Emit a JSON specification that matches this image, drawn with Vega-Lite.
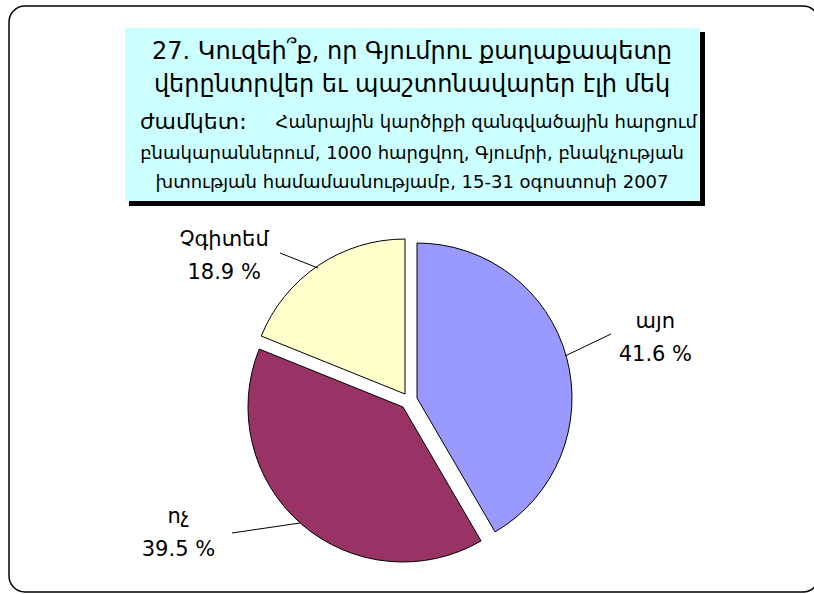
{
  "$schema": "https://vega.github.io/schema/vega-lite/v6.json",
  "width": 810,
  "height": 586,
  "autosize": "none",
  "padding": {"left": 9, "top": 6, "right": 0, "bottom": 2},
  "background": "white",
  "view": {"stroke": "black", "strokeWidth": 1.5, "cornerRadius": 16, "fill": "white"},
  "data": {"values": [
    {"cat": "այո", "value": 41.6},
    {"cat": "ոչ", "value": 39.5},
    {"cat": "Չգիտեմ", "value": 18.9}
  ]},
  "layer": [
    {"data": {"values": [{}]}, "mark": {"type": "rect", "x": 120, "y": 26, "x2": 696, "y2": 200, "fill": "black"}, "encoding": {}},
    {"data": {"values": [{}]}, "mark": {"type": "rect", "x": 116, "y": 22, "x2": 691, "y2": 195, "fill": "#CCFFFF"}, "encoding": {}},
    {"data": {"values": [{"t": "27. Կուզեի՞ք, որ Գյումրու քաղաքապետը"}]}, "mark": {"type": "text", "x": 403, "y": 46, "align": "center", "baseline": "middle", "font": "DejaVu Sans", "fontSize": 24, "color": "black"}, "encoding": {"text": {"field": "t"}}},
    {"data": {"values": [{"t": "վերընտրվեր եւ պաշտոնավարեր էլի մեկ"}]}, "mark": {"type": "text", "x": 403, "y": 79, "align": "center", "baseline": "middle", "font": "DejaVu Sans", "fontSize": 24, "color": "black"}, "encoding": {"text": {"field": "t"}}},
    {"data": {"values": [{"t": "ժամկետ:"}]}, "mark": {"type": "text", "x": 131, "y": 116, "align": "left", "baseline": "middle", "font": "DejaVu Sans", "fontSize": 22, "color": "black"}, "encoding": {"text": {"field": "t"}}},
    {"data": {"values": [{"t": "Հանրային կարծիքի զանգվածային հարցում"}]}, "mark": {"type": "text", "x": 688, "y": 117, "align": "right", "baseline": "middle", "font": "DejaVu Sans", "fontSize": 18, "color": "black"}, "encoding": {"text": {"field": "t"}}},
    {"data": {"values": [{"t": "բնակարաններում, 1000 հարցվող, Գյումրի, բնակչության"}]}, "mark": {"type": "text", "x": 403, "y": 148, "align": "center", "baseline": "middle", "font": "DejaVu Sans", "fontSize": 18, "color": "black"}, "encoding": {"text": {"field": "t"}}},
    {"data": {"values": [{"t": "խտության համամասնությամբ, 15-31 օգոստոսի 2007"}]}, "mark": {"type": "text", "x": 403, "y": 177, "align": "center", "baseline": "middle", "font": "DejaVu Sans", "fontSize": 18, "color": "black"}, "encoding": {"text": {"field": "t"}}},
    {
      "mark": {"type": "arc", "radius": 155, "stroke": "black", "strokeWidth": 1, "xOffset": 3, "yOffset": 99},
      "encoding": {
        "theta": {"field": "value", "type": "quantitative", "stack": true},
        "order": {"field": "value", "sort": "descending"},
        "color": {"field": "cat", "type": "nominal", "scale": {"domain": ["այո", "ոչ", "Չգիտեմ"], "range": ["#9999FF", "#993366", "#FFFFCC"]}, "legend": null},
        "opacity": {"condition": {"test": "datum.cat === 'այո'", "value": 1}, "value": 0}
      }
    },
    {
      "mark": {"type": "arc", "radius": 155, "stroke": "black", "strokeWidth": 1, "xOffset": -11, "yOffset": 108},
      "encoding": {
        "theta": {"field": "value", "type": "quantitative", "stack": true},
        "order": {"field": "value", "sort": "descending"},
        "color": {"field": "cat", "type": "nominal", "scale": {"domain": ["այո", "ոչ", "Չգիտեմ"], "range": ["#9999FF", "#993366", "#FFFFCC"]}, "legend": null},
        "opacity": {"condition": {"test": "datum.cat === 'ոչ'", "value": 1}, "value": 0}
      }
    },
    {
      "mark": {"type": "arc", "radius": 155, "stroke": "black", "strokeWidth": 1, "xOffset": -9, "yOffset": 95},
      "encoding": {
        "theta": {"field": "value", "type": "quantitative", "stack": true},
        "order": {"field": "value", "sort": "descending"},
        "color": {"field": "cat", "type": "nominal", "scale": {"domain": ["այո", "ոչ", "Չգիտեմ"], "range": ["#9999FF", "#993366", "#FFFFCC"]}, "legend": null},
        "opacity": {"condition": {"test": "datum.cat === 'Չգիտեմ'", "value": 1}, "value": 0}
      }
    },
    {"data": {"values": [{}]}, "mark": {"type": "rule", "stroke": "black", "strokeWidth": 1}, "encoding": {"x": {"value": 271}, "y": {"value": 247}, "x2": {"value": 309}, "y2": {"value": 262}}},
    {"data": {"values": [{}]}, "mark": {"type": "rule", "stroke": "black", "strokeWidth": 1}, "encoding": {"x": {"value": 556}, "y": {"value": 350}, "x2": {"value": 602}, "y2": {"value": 328}}},
    {"data": {"values": [{}]}, "mark": {"type": "rule", "stroke": "black", "strokeWidth": 1}, "encoding": {"x": {"value": 223}, "y": {"value": 527}, "x2": {"value": 291}, "y2": {"value": 517}}},
    {
      "transform": [{"calculate": "datum.cat + '\\n' + format(datum.value, '.1f') + ' %'", "as": "label"}],
      "mark": {"type": "text", "radius": 250, "font": "DejaVu Sans", "fontSize": 21, "lineBreak": "\n", "lineHeight": 33, "align": "center", "baseline": "middle", "color": "black", "xOffset": -4, "yOffset": 101, "dx": 4, "dy": -13},
      "encoding": {
        "theta": {"field": "value", "type": "quantitative", "stack": true},
        "order": {"field": "value", "sort": "descending"},
        "text": {"condition": {"test": "datum.cat === 'այո'", "field": "label"}, "value": ""}
      }
    },
    {
      "transform": [{"calculate": "datum.cat + '\\n' + format(datum.value, '.1f') + ' %'", "as": "label"}],
      "mark": {"type": "text", "radius": 250, "font": "DejaVu Sans", "fontSize": 21, "lineBreak": "\n", "lineHeight": 33, "align": "center", "baseline": "middle", "color": "black", "xOffset": -4, "yOffset": 101, "dx": -68, "dy": -72},
      "encoding": {
        "theta": {"field": "value", "type": "quantitative", "stack": true},
        "order": {"field": "value", "sort": "descending"},
        "text": {"condition": {"test": "datum.cat === 'ոչ'", "field": "label"}, "value": ""}
      }
    },
    {
      "transform": [{"calculate": "datum.cat + '\\n' + format(datum.value, '.1f') + ' %'", "as": "label"}],
      "mark": {"type": "text", "radius": 250, "font": "DejaVu Sans", "fontSize": 21, "lineBreak": "\n", "lineHeight": 33, "align": "center", "baseline": "middle", "color": "black", "xOffset": -4, "yOffset": 101, "dx": -46, "dy": 47},
      "encoding": {
        "theta": {"field": "value", "type": "quantitative", "stack": true},
        "order": {"field": "value", "sort": "descending"},
        "text": {"condition": {"test": "datum.cat === 'Չգիտեմ'", "field": "label"}, "value": ""}
      }
    }
  ]
}
